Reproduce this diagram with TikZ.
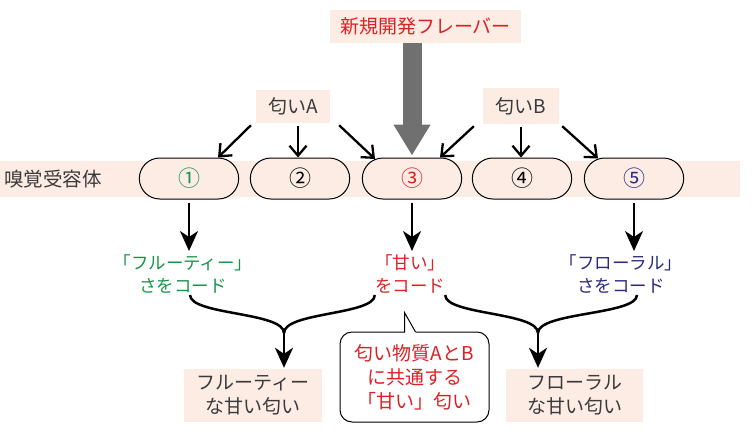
\documentclass[tikz,border=0pt]{standalone}
\usepackage{fontspec}
\setmainfont{Noto Sans CJK JP}
\usetikzlibrary{arrows.meta,shapes.misc}

\definecolor{peach}{RGB}{252,236,228}
\definecolor{txtred}{RGB}{222,32,36}
\definecolor{txtgreen}{RGB}{22,148,72}
\definecolor{txtblue}{RGB}{42,40,128}
\definecolor{txtgray}{RGB}{58,58,58}
\definecolor{arrowgray}{RGB}{112,112,112}

\tikzset{
	box/.style={fill=peach,inner sep=0pt,minimum height=33pt,align=center,text=txtgray,font=\fontsize{19}{24}\selectfont},
	receptor/.style={rounded rectangle,draw,line width=1pt,fill=peach,minimum width=106pt,minimum height=41pt,font=\fontsize{22}{24}\selectfont},
	codelabel/.style={inner sep=0pt,align=center,font=\fontsize{17.5}{23}\selectfont},
	smellarrow/.style={line width=2.3pt,-{Straight Barb[length=10pt,width=17pt]},shorten <=3pt},
	codearrow/.style={line width=2.5pt,-{Stealth[length=20pt,width=18pt,inset=6pt]}},
	bracecurve/.style={line width=2.5pt},
}

\begin{document}
\begin{tikzpicture}[x=1pt,y=-1pt]
	\useasboundingbox (0,0) rectangle (754,437);

	% receptor band
	\fill[peach] (0,161) rectangle (740,197);
	\node[anchor=west,inner sep=0pt,text=txtgray,font=\fontsize{19.5}{24}\selectfont] (band) at (4,179) {嗅覚受容体};
	\foreach \i/\x/\c/\n in {1/189/txtgreen/①,2/300/black/②,3/412/txtred/③,4/522/black/④,5/634/txtblue/⑤}
		\node[receptor,text=\c] (r\i) at (\x,178.5) {\n};

	% odours
	\node[box,minimum width=191pt,text=txtred] (flavor) at (425.5,26) {新規開発フレーバー};
	\node[box,minimum width=74pt] (odorA) at (293,106.5) {匂いA};
	\node[box,minimum width=76pt,minimum height=36pt] (odorB) at (521,106) {匂いB};

	\draw[arrowgray,line width=19pt,-{Triangle[length=31pt,width=35pt]},shorten >=2pt] (flavor.south -| r3.north) -- (r3.north);

	\draw[smellarrow] ([xshift=-40pt]odorA.south) -- ([xshift=29pt]r1.north);
	\draw[smellarrow] ([xshift=5pt]odorA.south) -- ([xshift=-2pt]r2.north);
	\draw[smellarrow] ([xshift=44pt]odorA.south) -- ([xshift=-37pt,yshift=-1.5pt]r3.north);
	\draw[smellarrow] ([xshift=-45pt]odorB.south) -- ([xshift=28pt]r3.north);
	\draw[smellarrow] (odorB.south) -- ([xshift=-1pt]r4.north);
	\draw[smellarrow] ([xshift=39pt]odorB.south) -- ([xshift=-36pt,yshift=-1pt]r5.north);

	% coding
	\node[codelabel,text=txtgreen] (fruity) at (183,273.5) {「フルーティー」\\さをコード};
	\node[codelabel,text=txtred] (sweet) at (410,273.5) {「甘い」\\をコード};
	\node[codelabel,text=txtblue] (floral) at (621,273.5) {「フローラル」\\さをコード};

	\draw[codearrow,shorten <=3pt,shorten >=3pt] (r1.south) -- (r1.south |- fruity.north);
	\draw[codearrow,shorten <=3pt,shorten >=3pt] (r3.south) -- (r3.south |- sweet.north);
	\draw[codearrow,shorten <=3pt,shorten >=3pt] (r5.south) -- (r5.south |- floral.north);

	% perceived smells
	\node[box,minimum width=138pt,minimum height=53pt] (fruitysweet) at (253,395.5) {フルーティー\\な甘い匂い};
	\node[box,minimum width=137pt,minimum height=53pt] (floralsweet) at (574.5,395.5) {フローラル\\な甘い匂い};

	\coordinate (j1) at (284,333);
	\coordinate (j2) at (538,333);
	\draw[bracecurve] ([xshift=7pt,yshift=-2pt]fruity.south) .. controls +(0,20) and +(0,-21) .. (j1);
	\draw[bracecurve] ([yshift=-2pt]sweet.south west) .. controls +(0,20) and +(0,-21) .. (j1);
	\draw[bracecurve] ([yshift=-2pt]sweet.south east) .. controls +(0,20) and +(0,-21) .. (j2);
	\draw[bracecurve] ([xshift=16pt,yshift=-2pt]floral.south) .. controls +(0,20) and +(0,-21) .. (j2);
	\draw[codearrow,shorten >=1pt] (j1) -- (j1 |- fruitysweet.north);
	\draw[codearrow,shorten >=1pt] (j2) -- (j2 |- floralsweet.north);

	% speech bubble
	\node[draw,line width=1pt,rounded corners=12pt,fill=white,minimum width=149pt,minimum height=90pt,align=center,text=txtred,font=\fontsize{19}{24}\selectfont] (bubble) at (414.5,377) {匂い物質AとB\\に共通する\\「甘い」匂い};
	\fill[white] ([xshift=-9.5pt,yshift=-1.5pt]bubble.north) -- ([xshift=-9.5pt,yshift=19pt]bubble.north) -- ([xshift=1.5pt,yshift=-1.5pt]bubble.north) -- cycle;
	\draw[line width=1pt] ([xshift=-10pt,yshift=-0.5pt]bubble.north) -- ([xshift=-10pt,yshift=19pt]bubble.north) -- ([xshift=1pt,yshift=-0.5pt]bubble.north);
\end{tikzpicture}
\end{document}
